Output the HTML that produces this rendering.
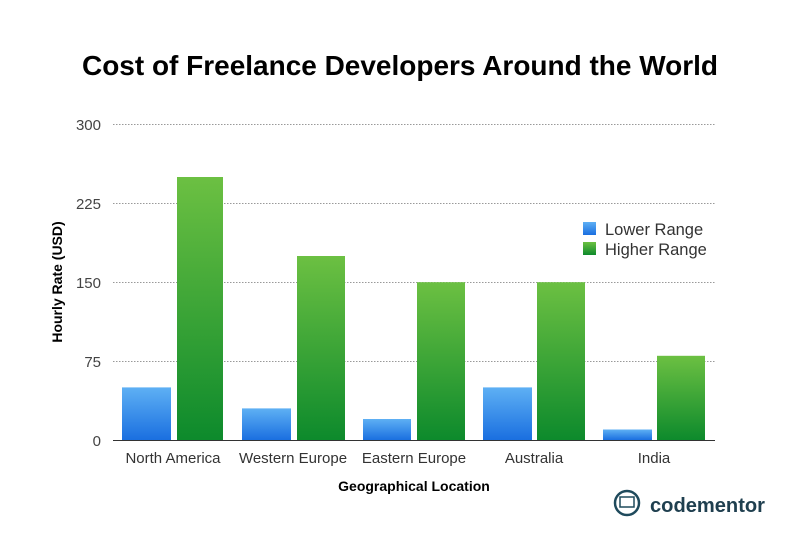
<!DOCTYPE html>
<html><head><meta charset="utf-8"><style>html,body{margin:0;padding:0;background:#fff}svg{display:block}</style></head>
<body>
<svg width="800" height="554" viewBox="0 0 800 554" xmlns="http://www.w3.org/2000/svg" font-family="Liberation Sans, sans-serif">
<defs>
<linearGradient id="g" x1="0" y1="0" x2="0" y2="1"><stop offset="0" stop-color="#6cc042"/><stop offset="1" stop-color="#0d8a2c"/></linearGradient>
<linearGradient id="b" x1="0" y1="0" x2="0" y2="1"><stop offset="0" stop-color="#5eb0f4"/><stop offset="1" stop-color="#1a6fe0"/></linearGradient>
</defs>
<text x="400" y="75" text-anchor="middle" font-size="28" font-weight="bold" fill="#000" textLength="636" lengthAdjust="spacingAndGlyphs">Cost of Freelance Developers Around the World</text>
<g stroke="#999" stroke-width="1" stroke-dasharray="1.5,1.5">
<line x1="113" y1="124.5" x2="715" y2="124.5"/>
<line x1="113" y1="203.5" x2="715" y2="203.5"/>
<line x1="113" y1="282.5" x2="715" y2="282.5"/>
<line x1="113" y1="361.5" x2="715" y2="361.5"/>
</g>
<g font-size="15" fill="#444" text-anchor="end">
<text x="101" y="130">300</text><text x="101" y="209">225</text><text x="101" y="288">150</text><text x="101" y="367">75</text><text x="101" y="446">0</text>
</g>
<g fill="url(#b)">
<rect x="122" y="387.4" width="49" height="52.6"/>
<rect x="242" y="408.4" width="49" height="31.6"/>
<rect x="363" y="419" width="48" height="21"/>
<rect x="483" y="387.4" width="49" height="52.6"/>
<rect x="603" y="429.5" width="49" height="10.5"/>
</g>
<g fill="url(#g)">
<rect x="177" y="177" width="46" height="263"/>
<rect x="297" y="256" width="48" height="184"/>
<rect x="417" y="282.2" width="48" height="157.8"/>
<rect x="537" y="282.2" width="48" height="157.8"/>
<rect x="657" y="355.8" width="48" height="84.2"/>
</g>
<line x1="113" y1="440.5" x2="715" y2="440.5" stroke="#333" stroke-width="1"/>
<g font-size="15" fill="#333" text-anchor="middle">
<text x="173" y="463">North America</text><text x="293" y="463">Western Europe</text><text x="414" y="463">Eastern Europe</text><text x="534" y="463">Australia</text><text x="654" y="463">India</text>
</g>
<text x="414" y="491" text-anchor="middle" font-size="14" font-weight="bold">Geographical Location</text>
<text transform="translate(62,282) rotate(-90)" text-anchor="middle" font-size="14" font-weight="bold">Hourly Rate (USD)</text>
<rect x="583" y="222" width="13" height="13" fill="url(#b)"/>
<rect x="583" y="242" width="13" height="13" fill="url(#g)"/>
<g font-size="16.5" fill="#333"><text x="605" y="235">Lower Range</text><text x="605" y="255">Higher Range</text></g>
<circle cx="627" cy="503" r="12" fill="none" stroke="#1f4a5c" stroke-width="2.5"/>
<rect x="620" y="497" width="14" height="10" fill="none" stroke="#1f4a5c" stroke-width="1.5"/>
<text x="650" y="512" font-size="20" font-weight="bold" fill="#1f3f4f" textLength="115" lengthAdjust="spacingAndGlyphs">codementor</text>
</svg>
</body></html>
